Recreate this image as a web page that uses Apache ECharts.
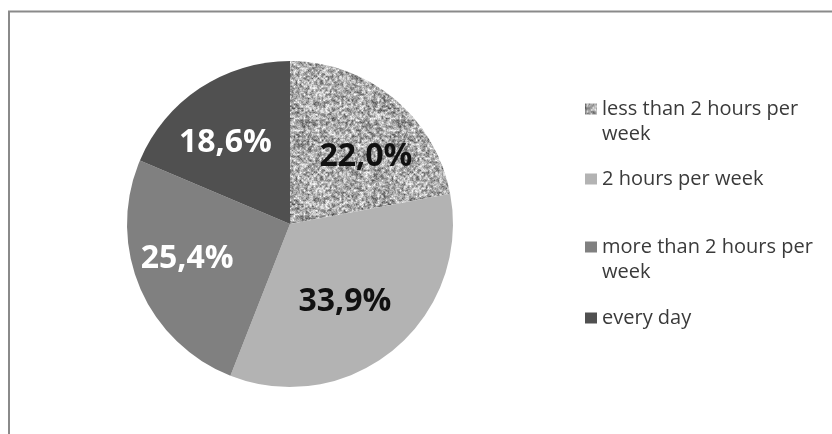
<!DOCTYPE html>
<html>
<head>
<meta charset="utf-8">
<script src="https://cdn.jsdelivr.net/npm/echarts@6/dist/echarts.min.js"></script>
<style>
html,body{margin:0;padding:0;background:#fff;}
#chart{width:832px;height:434px;}
</style>
</head>
<body>
<div id="chart"></div>
<script>
// ---- data ----
var categories = ['less than 2 hours per week', '2 hours per week', 'more than 2 hours per week', 'every day'];
var values = [22.0, 33.9, 25.4, 18.6];

// ---- styles ----
function hash(x, y) {
  var s = Math.sin(x * 12.9898 + y * 78.233) * 43758.5453;
  return s - Math.floor(s);
}
function makeTexture() {
  var N = 96, c = document.createElement('canvas');
  c.width = N; c.height = N;
  var ctx = c.getContext('2d');
  var img = ctx.createImageData(N, N);
  var cell = 2, G = N / cell;
  function vn(x, y) {
    var gx = x / cell, gy = y / cell;
    var x0 = Math.floor(gx), y0 = Math.floor(gy);
    var fx = gx - x0, fy = gy - y0;
    var a = hash(x0 % G, y0 % G), b = hash((x0 + 1) % G, y0 % G);
    var cc = hash(x0 % G, (y0 + 1) % G), d = hash((x0 + 1) % G, (y0 + 1) % G);
    var top = a + (b - a) * fx, bot = cc + (d - cc) * fx;
    return top + (bot - top) * fy;
  }
  for (var y = 0; y < N; y++) {
    for (var x = 0; x < N; x++) {
      var n = vn(x, y) * 0.7 + hash(x + 311, y + 173) * 0.3;
      var v = 75 + n * 190;
      if (v > 255) v = 255;
      var i = (y * N + x) * 4;
      img.data[i] = img.data[i + 1] = img.data[i + 2] = v;
      img.data[i + 3] = 255;
    }
  }
  ctx.putImageData(img, 0, 0);
  return c;
}
var sliceColors = [{image: makeTexture(), repeat: 'repeat'}, '#b3b3b3', '#808080', '#505050'];
var labelColors = ['#111111', '#111111', '#ffffff', '#ffffff'];
var labelOffsets = [[22, -2], [1, 13], [-25, 2], [-18, -11]];
var legendCenters = [109, 179, 247, 318];
var legendLines = [2, 1, 2, 1];
var LH = 25;

var chart = echarts.init(document.getElementById('chart'), null, {renderer: 'canvas'});

var legends = categories.map(function (name, i) {
  var two = legendLines[i] === 2;
  var blockH = two ? LH * 3 : LH;
  return {
    show: true,
    data: [name],
    orient: 'vertical',
    left: 585,
    top: legendCenters[i] - blockH / 2,
    padding: 0,
    itemWidth: 12,
    itemHeight: 11,
    selectedMode: false,
    icon: 'rect',
    formatter: function (n) { return two ? '\n' + n : n; },
    textStyle: {
      fontFamily: 'Open Sans',
      fontSize: 20,
      color: '#3a3a3a',
      lineHeight: LH,
      width: 222,
      overflow: 'break'
    }
  };
});

var option = {
  backgroundColor: '#ffffff',
  animation: false,
  legend: legends,
  graphic: [
    {type: 'line', shape: {x1: 8, y1: 11.5, x2: 832, y2: 11.5}, style: {stroke: '#8a8a8a', lineWidth: 2}},
    {type: 'line', shape: {x1: 9, y1: 11, x2: 9, y2: 434}, style: {stroke: '#8a8a8a', lineWidth: 2}}
  ],
  series: [{
    type: 'pie',
    center: [290, 224],
    radius: 163,
    startAngle: 90,
    clockwise: true,
    avoidLabelOverlap: false,
    emphasis: {disabled: true},
    itemStyle: {borderWidth: 0},
    label: {
      position: 'inside',
      fontFamily: 'Open Sans',
      fontWeight: 'bold',
      fontSize: 32,
      formatter: function (p) { return p.value.toFixed(1).replace('.', ',') + '%'; }
    },
    labelLine: {show: false},
    data: categories.map(function (name, i) {
      return {
        name: name,
        value: values[i],
        itemStyle: {color: sliceColors[i]},
        label: {color: labelColors[i], offset: labelOffsets[i]}
      };
    })
  }]
};
chart.setOption(option);
</script>
</body>
</html>
